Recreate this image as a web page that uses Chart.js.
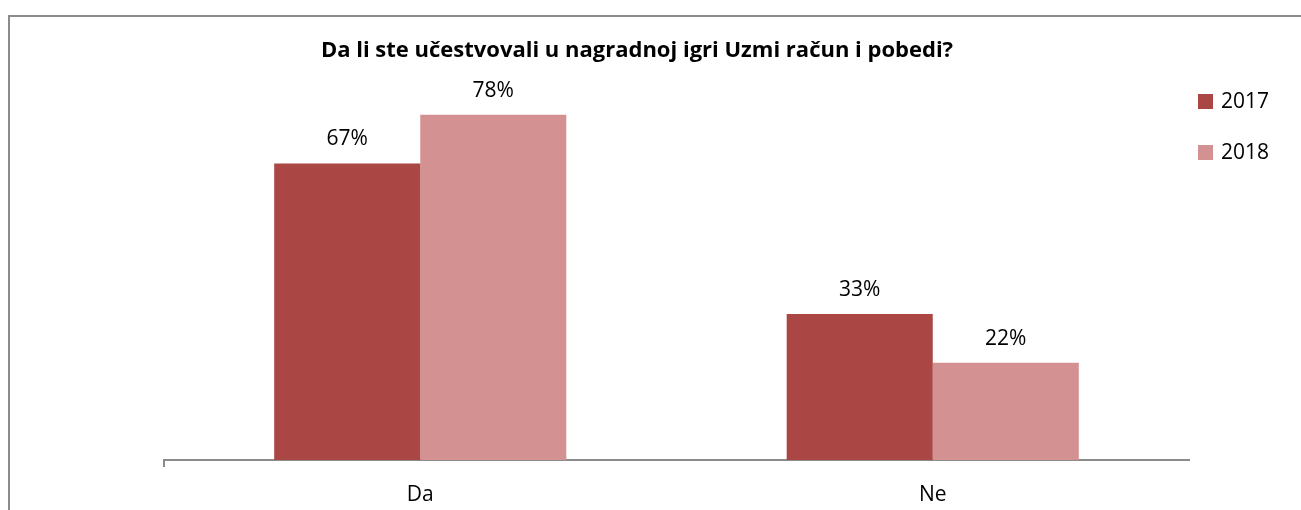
<!DOCTYPE html>
<html>
<head>
<meta charset="utf-8">
<script src="https://cdn.jsdelivr.net/npm/chart.js@4.4.1/dist/chart.umd.min.js"></script>
<style>
  body { margin: 0; background: #fff; }
  #wrap { position: relative; width: 1301px; height: 510px; overflow: hidden; }
  #frame { position: absolute; left: 8px; top: 15px; width: 1400px; height: 600px;
           border-left: 2px solid #8c8c8c; border-top: 2px solid #8c8c8c; }
  #chart { position: absolute; left: 0; top: 0; }
</style>
</head>
<body>
<div id="wrap">
  <div id="frame"></div>
  <canvas id="chart" width="1301" height="510"></canvas>
</div>
<script>
var categories = ['Da', 'Ne'];
var series2017 = [67, 33];
var series2018 = [78, 22];
var seriesNames = ['2017', '2018'];
var colors = ['#aa4745', '#d39291'];

var fontFamily = '"Open Sans", Lato, sans-serif';

// percent labels over the bars
var valueLabels = {
	id: 'valueLabels',
	afterDatasetsDraw: function(chart) {
		var ctx = chart.ctx;
		ctx.save();
		ctx.font = '21px ' + fontFamily;
		ctx.fillStyle = '#000';
		ctx.textAlign = 'center';
		ctx.textBaseline = 'middle';
		chart.data.datasets.forEach(function(ds, i) {
			chart.getDatasetMeta(i).data.forEach(function(bar, j) {
				ctx.fillText(ds.data[j] + '%', bar.x, bar.y - 24);
			});
		});
		ctx.restore();
	}
};

// legend on the right, spaced like the original
var sideLegend = {
	id: 'sideLegend',
	afterDraw: function(chart) {
		var ctx = chart.ctx;
		ctx.save();
		ctx.font = '21px ' + fontFamily;
		ctx.textBaseline = 'middle';
		ctx.textAlign = 'left';
		chart.data.datasets.forEach(function(ds, i) {
			var y = 94 + i * 51;
			ctx.fillStyle = ds.backgroundColor;
			ctx.fillRect(1198, y, 15, 15);
			ctx.fillStyle = '#000';
			ctx.fillText(ds.label, 1221, y + 8);
		});
		ctx.restore();
	}
};

new Chart(document.getElementById('chart'), {
	type: 'bar',
	data: {
		labels: categories,
		datasets: [
			{ label: seriesNames[0], data: series2017, backgroundColor: colors[0] },
			{ label: seriesNames[1], data: series2018, backgroundColor: colors[1] }
		]
	},
	options: {
		responsive: false,
		animation: false,
		layout: { padding: { left: 85, right: 112, top: 20, bottom: 3 } },
		datasets: { bar: { categoryPercentage: 0.57, barPercentage: 1 } },
		plugins: {
			legend: { display: false },
			tooltip: { enabled: false },
			title: {
				display: true,
				text: 'Da li ste učestvovali u nagradnoj igri Uzmi račun i pobedi?',
				color: '#000',
				font: { family: fontFamily, size: 22, weight: 'bold' },
				padding: { top: 18, bottom: 15 }
			}
		},
		scales: {
			x: {
				grid: {
					drawOnChartArea: false,
					tickLength: 7,
					lineWidth: 2,
					color: function(c) { return c.index === 0 ? '#8c8c8c' : 'rgba(0,0,0,0)'; }
				},
				border: { color: '#8c8c8c', width: 2 },
				ticks: { color: '#000', padding: 15, font: { family: fontFamily, size: 21 } },
				afterFit: function(s) { s.height = 47; }
			},
			y: {
				min: 0,
				max: 86,
				grid: { display: false },
				border: { display: false },
				ticks: { display: false },
				afterFit: function(s) { s.width = 79; }
			}
		}
	},
	plugins: [valueLabels, sideLegend]
});
</script>
</body>
</html>
